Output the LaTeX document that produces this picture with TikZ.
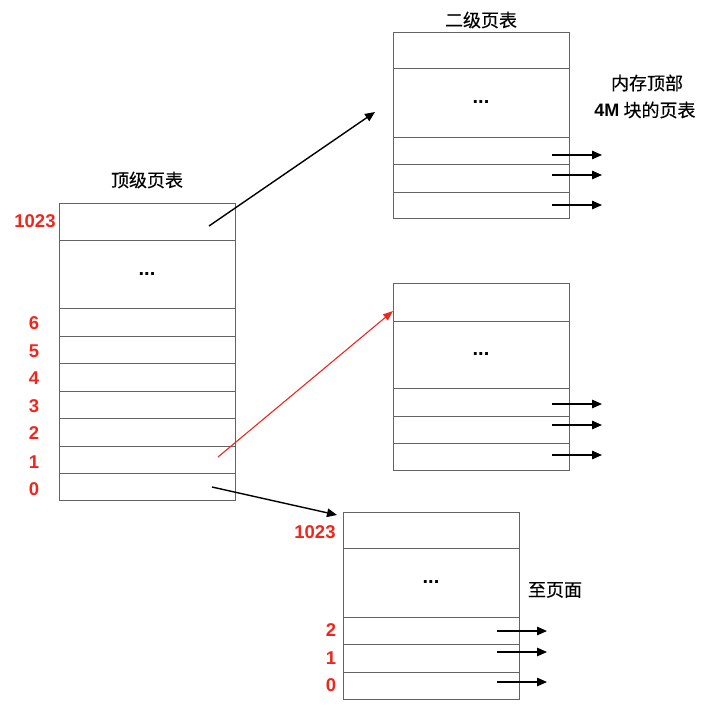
\documentclass[tikz,border=0pt]{standalone}
\usepackage{fontspec}
\setmainfont{Liberation Sans}
\newfontfamily\cjk[FakeBold=0.3]{Noto Sans CJK SC}
\usetikzlibrary{arrows.meta,calc}
\definecolor{numred}{RGB}{240,38,28}
\definecolor{cellgray}{RGB}{100,100,100}
\begin{document}
\begin{tikzpicture}[x=1pt,y=-1pt,
  cell/.style={draw=cellgray, line width=1pt, minimum width=176pt, inner sep=0pt, outer sep=0pt, anchor=north west, font=\bfseries\fontsize{20}{20}\selectfont},
  num/.style={text=numred, font=\bfseries\fontsize{18.5}{18.5}\selectfont, inner sep=0pt},
  ttl/.style={font=\cjk\fontsize{18}{18}\selectfont, inner sep=0pt},
  arr/.style={draw=black, line width=1.4pt, -{Triangle[length=10pt,width=8.5pt]}},
  redarr/.style={draw=numred, line width=1.1pt, -{Triangle[length=10pt,width=7.5pt]}}]
\useasboundingbox (0,0) rectangle (704,720);

% top-level table
\node[cell,minimum height=37pt] (T1023) at (59,203) {};
\node[cell,minimum height=68pt] (Tdots) at (59,240) {...};
\node[cell,minimum height=28pt] (T6) at (59,308) {};
\node[cell,minimum height=27pt] (T5) at (59,336) {};
\node[cell,minimum height=28pt] (T4) at (59,363) {};
\node[cell,minimum height=27pt] (T3) at (59,391) {};
\node[cell,minimum height=28pt] (T2) at (59,418) {};
\node[cell,minimum height=27pt] (T1) at (59,446) {};
\node[cell,minimum height=27pt] (T0) at (59,473) {};
\node[ttl] (Ttitle) at (147,180) {顶级页表};
\node[num] (LT1023) at (35,221) {1023};
\node[num] (LT6) at (34,323) {6};
\node[num] (LT5) at (34,351) {5};
\node[num] (LT4) at (34,378) {4};
\node[num] (LT3) at (34,406) {3};
\node[num] (LT2) at (34,433) {2};
\node[num] (LT1) at (34,462) {1};
\node[num] (LT0) at (34,489) {0};

% second-level table (top)
\node[cell,minimum height=36pt] (Ah) at (393,32) {};
\node[cell,minimum height=69pt] (Adots) at (393,68) {...};
\node[cell,minimum height=27pt] (A2) at (393,137) {};
\node[cell,minimum height=28pt] (A1) at (393,164) {};
\node[cell,minimum height=26pt] (A0) at (393,192) {};
\node[ttl] (Atitle) at (481,20) {二级页表};
\node[ttl] (memA) at (647,83) {内存顶部};
\node[ttl] (memB) at (645,110) {{\rmfamily\bfseries 4M} 块的页表};

% second-level table (middle)
\node[cell,minimum height=38pt] (Bh) at (393,283) {};
\node[cell,minimum height=67pt] (Bdots) at (393,321) {...};
\node[cell,minimum height=28pt] (B2) at (393,388) {};
\node[cell,minimum height=27pt] (B1) at (393,416) {};
\node[cell,minimum height=27pt] (B0) at (393,443) {};

% second-level table (bottom)
\node[cell,minimum height=36pt] (Ch) at (343,512) {};
\node[cell,minimum height=69pt] (Cdots) at (343,548) {...};
\node[cell,minimum height=27pt] (C2) at (343,617) {};
\node[cell,minimum height=28pt] (C1) at (343,644) {};
\node[cell,minimum height=27pt] (C0) at (343,672) {};
\node[num] (LC1023) at (315,532) {1023};
\node[num] (LC2) at (331,630) {2};
\node[num] (LC1) at (331,658) {1};
\node[num] (LC0) at (331,685) {0};
\node[ttl] (topage) at (555,590) {至页面};

% connectors between tables
\draw[arr] ($(T1023.center)+(62,4.5)$) -- ($(Adots.west)+(-18,9.5)$);
\draw[redarr] ($(T1.center)+(71,-2.5)$) -- ($(Bh.west)+(0,9)$);
\draw[arr] ($(T0.center)+(65,0.5)$) -- ($(Ch.north west)+(-6,3)$);

% outgoing arrows
\draw[arr] ($(A2.east)+(-17,4.5)$) -- ++(50,0);
\draw[arr] ($(A1.east)+(-17,-3)$) -- ++(50,0);
\draw[arr] ($(A0.east)+(-17,0)$) -- ++(50,0);
\draw[arr] ($(B2.east)+(-17,2)$) -- ++(50,0);
\draw[arr] ($(B1.east)+(-17,-4.5)$) -- ++(50,0);
\draw[arr] ($(B0.east)+(-17,-1.5)$) -- ++(50,0);
\draw[arr] ($(C2.east)+(-22,0.5)$) -- ++(50,0);
\draw[arr] ($(C1.east)+(-22,-6)$) -- ++(50,0);
\draw[arr] ($(C0.east)+(-22,-3.5)$) -- ++(50,0);
\end{tikzpicture}
\end{document}
